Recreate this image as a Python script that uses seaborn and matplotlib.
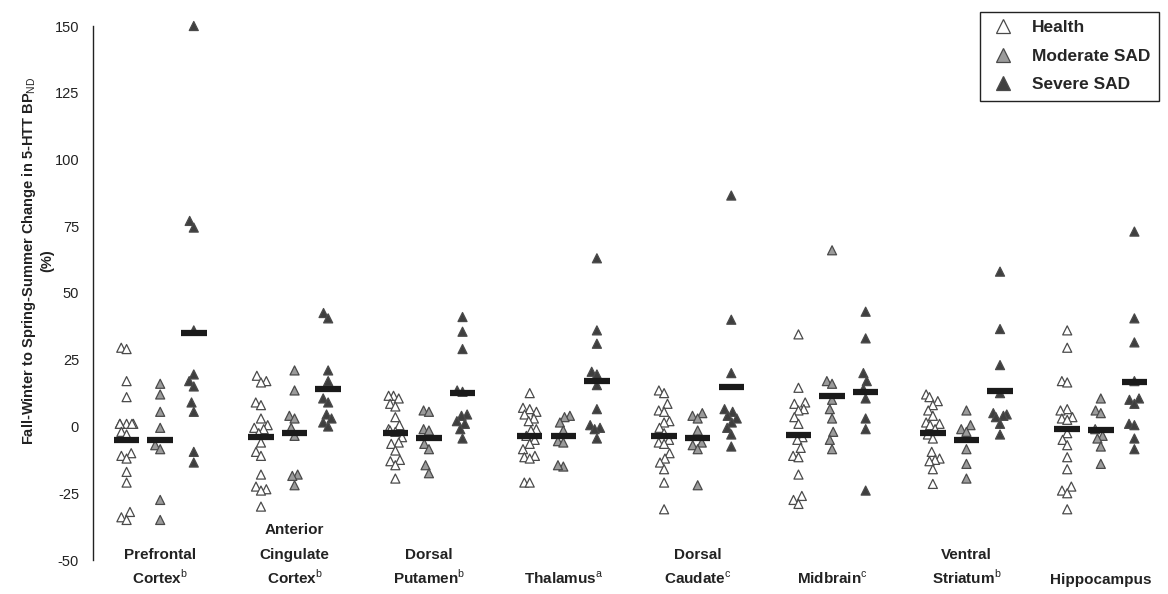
import numpy as np
import pandas as pd
import matplotlib
matplotlib.use("Agg")
import matplotlib.pyplot as plt
import matplotlib.transforms as mtransforms
from matplotlib.lines import Line2D
import seaborn as sns

# Régions et groupes
regions = ["Prefrontal\nCortex$^\\mathrm{b}$",
           "Anterior\nCingulate\nCortex$^\\mathrm{b}$",
           "Dorsal\nPutamen$^\\mathrm{b}$",
           "Thalamus$^\\mathrm{a}$",
           "Dorsal\nCaudate$^\\mathrm{c}$",
           "Midbrain$^\\mathrm{c}$",
           "Ventral\nStriatum$^\\mathrm{b}$",
           "Hippocampus"]
groups = ["Health", "Moderate SAD", "Severe SAD"]

# Valeurs (% de changement)
health = [
    [29.5, 29, 17, 11, 1, 1, 1, 1, 1, -2, -3, -10, -11, -12, -17, -21, -32, -34, -35],
    [19, 17, 16.5, 9, 8, 3, 0.5, -0.5, -1, -2.5, -6, -9.5, -11, -18, -22.5, -23.5, -24, -30],
    [11.5, 11.5, 10.5, 8.5, 7.5, 3.5, 0.5, -1, -1.5, -2, -4, -6, -6.5, -9, -12.5, -13, -14.5, -19.5],
    [12.5, 7, 6.5, 5.5, 4.5, 3, 2, -1, -1.5, -3.5, -5, -6.5, -8.5, -11, -11.5, -12, -21, -21],
    [13.5, 12.5, 8.5, 6, 5.5, 2, 1.5, -0.5, -2.5, -5, -6, -6.5, -10, -12, -13.5, -16, -21, -31],
    [34.5, 14.5, 9, 8.5, 6.5, 6, 3.5, 1, -4, -5, -8, -11, -11.5, -18, -26, -27.5, -29],
    [12, 11, 9.5, 8, 6, 4, 1.5, 1, 0.5, -1, -3, -4.5, -9.5, -12, -12.5, -13, -16, -21.5],
    [36, 29.5, 17, 16.5, 6.5, 6, 3.5, 3, 2.5, -2.5, -5, -7, -11.5, -16, -22.5, -24, -25, -31],
]
moderate = [
    [16, 12, 5.5, -0.5, -7, -8.5, -27.5, -35],
    [21, 13.5, 4, 3, -0.5, -3.5, -18, -18.5, -22],
    [6, 5.5, -1, -1.5, -6.5, -8.5, -14.5, -17.5],
    [4, 3.5, 1.5, -1.5, -5.5, -6, -15, -14.5],
    [5, 4, 3, -1.5, -6, -7, -8.5, -22],
    [66, 17, 16, 10, 6.5, 3, -2, -5, -8.5],
    [6, 0.5, -1, -2, -8.5, -14, -19.5],
    [10.5, 6, 5, -1, -3.5, -4.5, -7.5, -14],
]
severe = [
    [150, 77, 74.5, 36, 19.5, 17, 15, 9, 5.5, -9.5, -13.5],
    [42.5, 40.5, 21, 17, 10.5, 9, 4.5, 3, 1.5, 0],
    [41, 35.5, 29, 13.5, 13, 4.5, 4, 2, 1, -1, -4.5],
    [63, 36, 31, 20.5, 19.5, 15.5, 6.5, 0.5, -0.5, -1, -4.5],
    [86.5, 40, 20, 6.5, 5.5, 4, 3, 1.5, -0.5, -3, -7.5],
    [43, 33, 20, 17, 14, 10.5, 3, -1, -24],
    [58, 36.5, 23, 12.5, 5, 4.5, 4, 3.5, 1, -3],
    [73, 40.5, 31.5, 17, 10.5, 10, 8.5, 1, 0.5, -4.5, -8.5],
]
# Moyennes (barres noires)
health_mean = [-5, -4, -2.5, -3.5, -3.5, -3, -2.5, -1]
moderate_mean = [-5, -2.5, -4.3, -3.7, -4.2, 11.6, -5, -1.2]
severe_mean = [35, 14, 12.6, 17.2, 14.7, 13.1, 13.4, 16.7]

palette = {"Health": "white", "Moderate SAD": "#9b9b9b", "Severe SAD": "#3f3f3f"}

# Table longue : position = 4 * région + groupe
rows = []
for i in range(len(regions)):
    for j, vals in enumerate([health[i], moderate[i], severe[i]]):
        for v in vals:
            rows.append({"region": i, "group": groups[j], "pos": 4 * i + j, "value": v})
df = pd.DataFrame(rows)

means = pd.DataFrame({
    "pos": [4 * i + j for i in range(len(regions)) for j in range(3)],
    "mean": [m[i] for i in range(len(regions)) for m in (health_mean, moderate_mean, severe_mean)],
})

sns.set_style("white")
plt.rcParams["font.family"] = ["Liberation Sans", "DejaVu Sans"]
plt.rcParams["mathtext.fontset"] = "custom"
plt.rcParams["mathtext.rm"] = "Liberation Sans"
plt.rcParams["mathtext.bf"] = "Liberation Sans:bold"
plt.rcParams["axes.unicode_minus"] = False

fig = plt.figure(figsize=(11.68, 5.94), dpi=100)
ax = fig.add_axes([93 / 1168, 34 / 594, 1075 / 1168, 534 / 594])

ax.set_xlim(-1, 31)
ax.set_ylim(-50, 150)

sns.swarmplot(data=df, x="pos", y="value", hue="group", hue_order=groups,
              palette=palette, native_scale=True, marker="^", size=6.5,
              edgecolor="#4a4a4a", linewidth=0.9, legend=False, ax=ax)
ax.set_xlim(-1, 31)
ax.set_ylim(-50, 150)

# seaborn place l'essaim au moment du rendu : on rend une fois, puis on resserre
fig.canvas.draw()
for coll in ax.collections:
    coll.__dict__.pop("draw", None)
    offs = np.asarray(coll.get_offsets()).copy()
    if len(offs):
        centers = np.round(offs[:, 0])
        offs[:, 0] = centers + (offs[:, 0] - centers) * 0.5
        coll.set_offsets(offs)
    coll.set_clip_on(False)

ax.hlines(means["mean"], means["pos"] - 0.38, means["pos"] + 0.38,
          color="#1a1a1a", linewidth=4.5, zorder=5)

ax.set_yticks(np.arange(-50, 151, 25))
ax.tick_params(axis="y", length=0, pad=10, labelsize=10.5, labelcolor="#222222")
ax.set_xticks([])
ax.set_xlabel("")
for side in ["top", "right", "bottom"]:
    ax.spines[side].set_visible(False)
ax.spines["left"].set_color("#222222")
ax.spines["left"].set_linewidth(1.0)

ax.set_ylabel("Fall-Winter to Spring-Summer Change in 5-HTT BP$_\\mathrm{ND}$\n(%)",
              fontsize=10.5, fontweight="bold", color="#222222", linespacing=1.2)
ax.yaxis.set_label_coords(-0.036, 0.56)

# Noms des régions sous les groupes, une ligne à la fois pour un interligne régulier
trans = mtransforms.blended_transform_factory(ax.transData, ax.transAxes)
for i, name in enumerate(regions):
    for k, line in enumerate(reversed(name.split("\n"))):
        ax.annotate(line, xy=(4 * i + 1, -0.045), xycoords=trans,
                    xytext=(0, 18 * k), textcoords="offset points",
                    ha="center", va="baseline", fontsize=11, fontweight="bold",
                    color="#222222", annotation_clip=False)

handles = [Line2D([], [], linestyle="none", marker="^", markersize=10,
                  markerfacecolor=palette[g], markeredgecolor="#4a4a4a",
                  markeredgewidth=0.9, label=g) for g in groups]
leg = fig.legend(handles=handles, loc="upper right", bbox_to_anchor=(1.0, 0.995),
                 bbox_transform=fig.transFigure, frameon=True, fancybox=False,
                 framealpha=1, edgecolor="#222222", prop={"weight": "bold", "size": 12.5},
                 handletextpad=0.9, labelspacing=0.75, borderpad=0.5, handlelength=1.6)
leg.get_frame().set_linewidth(1.0)

plt.savefig("out.png", dpi=100)
plt.close()
